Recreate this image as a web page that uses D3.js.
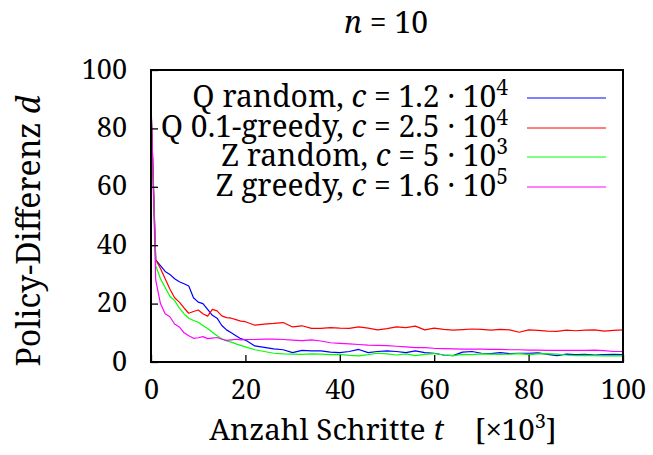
<!DOCTYPE html>
<html lang="de">
<head>
    <meta charset="UTF-8">
    <title>Policy-Differenz, n = 10</title>
    <script src="https://d3js.org/d3.v7.min.js"></script>
    <style>
        body { margin: 0; background: #fff; }
        .curve { fill: none; stroke-width: 1.2px; stroke-linejoin: round; }
    </style>
</head>
<body>
    <svg id="chart" width="653" height="455"></svg>

    <script>
        // Schritte t in 1000
        const steps = [0, 1, 2, 3, 4, 5, 6, 7, 8, 9, 10, 11, 12, 13, 14, 15, 16, 17, 18, 19, 20,
            22, 24, 26, 28, 30, 32, 34, 36, 38, 40, 42, 44, 46, 48, 50, 52, 54, 56, 58, 60,
            62, 64, 66, 68, 70, 72, 74, 76, 78, 80, 82, 84, 86, 88, 90, 92, 94, 96, 98, 100];

        const qRandom = [88, 35, 33, 31, 30, 28.5, 27.5, 26.8, 26, 22, 20.5, 20, 18, 16, 15, 12.5, 11, 10, 9, 8, 7.5,
            5.5, 5, 4.5, 4.2, 3.2, 4, 3.8, 3.8, 3.4, 3.2, 3.6, 4.3, 3.2, 3.6, 3.8, 3.6, 3.2, 3.8, 3.2, 3,
            2.4, 2.2, 3.4, 3.6, 3, 2.9, 3.2, 2.9, 3, 3, 3.1, 2.6, 2.2, 2.7, 2.5, 2.6, 2.4, 2.5, 2.6, 2.5];

        const qGreedy = [88, 35, 32, 28.5, 25, 22, 20.5, 18.5, 16.7, 17.3, 17.8, 16.5, 15.7, 18, 17.5, 15.8, 15.2, 15, 14.5, 14, 13.8,
            12.6, 13, 13.2, 13.5, 12, 12.4, 11.5, 11.5, 11.8, 11.6, 11.5, 12, 11.6, 11, 11.4, 12, 11.8, 12.3, 11, 11.6,
            11.2, 10.9, 11.1, 11.3, 11.2, 10.9, 11.2, 11, 10.2, 11, 10.8, 10.6, 10.5, 10.9, 10.7, 10.9, 11, 10.6, 10.8, 11];

        const zRandom = [86, 33, 28.5, 25.5, 22.5, 21, 18.5, 16.5, 15, 14.2, 13.6, 12.5, 11.5, 10.2, 9, 8, 7.2, 6.8, 6.2, 5.7, 5.2,
            4.2, 3.6, 3, 2.8, 2.7, 2.6, 2.8, 2.7, 2.5, 2.6, 2.3, 2.1, 2.5, 3, 2.8, 2.4, 2.8, 2.2, 2.6, 2.9,
            2.4, 2.2, 2.6, 2.5, 2.8, 2.7, 2.6, 2.7, 2.9, 2.5, 2.8, 2.9, 2.7, 2.4, 2.2, 2.3, 2.2, 2.1, 2.2, 2.1];

        const zGreedy = [90, 28, 20, 16.5, 15.5, 13, 12, 10, 9, 8.1, 8.3, 8.7, 8, 8.2, 8.4, 7.8, 7.4, 7.6, 7.8, 7.6, 7.7,
            7.7, 7.8, 7.8, 7.7, 7.5, 7.3, 7.6, 7.2, 6.6, 6.4, 6.2, 6, 5.8, 5.7, 5.6, 5.4, 5.2, 4.9, 4.9, 4.7,
            4.6, 4.5, 4.4, 4.4, 4.4, 4.3, 4.3, 4.2, 4.2, 4.1, 4.1, 4, 4, 4, 4, 4, 4.1, 3.9, 3.6, 3.6];

        const xTicks = [0, 20, 40, 60, 80, 100];
        const yTicks = [0, 20, 40, 60, 80, 100];

        const series = [
            { name: "Q random", c: "1.2", exp: "4", color: "#0000ff", values: qRandom },
            { name: "Q 0.1-greedy", c: "2.5", exp: "4", color: "#ff0000", values: qGreedy },
            { name: "Z random", c: "5", exp: "3", color: "#00ff00", values: zRandom },
            { name: "Z greedy", c: "1.6", exp: "5", color: "#ff00ff", values: zGreedy }
        ];

        const margin = { top: 70, right: 30, bottom: 93, left: 151 };
        const width = 653 - margin.left - margin.right;
        const height = 455 - margin.top - margin.bottom;
        const serif = "'Noto Serif', 'Tinos', 'Times New Roman', serif";

        const svg = d3.select("#chart");
        const g = svg.append("g")
            .attr("transform", `translate(${margin.left},${margin.top})`);

        const x = d3.scaleLinear().domain([0, 100]).range([0, width]);
        const y = d3.scaleLinear().domain([0, 100]).range([height, 0]);

        svg.append("defs").append("clipPath").attr("id", "clip")
            .append("rect").attr("width", width).attr("height", height);

        const line = d3.line()
            .x((d, i) => x(steps[i]))
            .y(d => y(d));

        g.append("g").attr("clip-path", "url(#clip)")
            .selectAll("path")
            .data(series)
            .join("path")
            .attr("class", "curve")
            .attr("stroke", d => d.color)
            .attr("d", d => line(d.values));

        // axes: inward ticks, labels outside
        const xAxis = g.append("g")
            .attr("transform", `translate(0,${height})`)
            .call(d3.axisBottom(x).tickValues(xTicks).tickSizeInner(-7).tickSizeOuter(0).tickPadding(18));
        const yAxis = g.append("g")
            .call(d3.axisLeft(y).tickValues(yTicks).tickSizeInner(-7).tickSizeOuter(0).tickPadding(24));

        [xAxis, yAxis].forEach(a => {
            a.attr("font-family", null).attr("font-size", null);
            a.select(".domain").remove();
            a.selectAll(".tick line").attr("stroke", "#000").attr("stroke-width", 1.3);
            a.selectAll(".tick text")
                .style("font-family", serif)
                .style("font-size", "27px");
        });
        xAxis.selectAll(".tick text").attr("dy", "0.71em");
        yAxis.selectAll(".tick text").attr("dy", "0.3em");

        // frame
        g.append("rect")
            .attr("width", width)
            .attr("height", height)
            .attr("fill", "none")
            .attr("stroke", "#000")
            .attr("stroke-width", 2);

        // legend
        const legend = g.append("g")
            .selectAll("g")
            .data(series)
            .join("g")
            .attr("transform", (d, i) => `translate(0,${Math.round(28 + i * 29.5)})`);

        legend.append("line")
            .attr("x1", 376).attr("x2", 455)
            .attr("stroke", d => d.color)
            .attr("stroke-width", 1);

        const lt = legend.append("text")
            .attr("x", 357)
            .attr("y", 9)
            .attr("text-anchor", "end")
            .style("font-family", serif)
            .style("font-size", "30px");
        lt.append("tspan").text(d => d.name + ", ");
        lt.append("tspan").style("font-style", "italic").text("c");
        lt.append("tspan").text(d => " = " + d.c + " \u00b7 10");
        lt.append("tspan").style("font-size", "21px").attr("dy", -12).text(d => d.exp);

        // title
        const title = svg.append("text")
            .attr("x", 386)
            .attr("y", 33)
            .attr("text-anchor", "middle")
            .style("font-family", serif)
            .style("font-size", "30px");
        title.append("tspan").style("font-style", "italic").text("n");
        title.append("tspan").text(" = 10");

        // x label
        const xl = svg.append("text")
            .attr("x", 383)
            .attr("y", 440)
            .attr("text-anchor", "middle")
            .style("font-family", serif)
            .style("font-size", "29.5px")
            .style("white-space", "pre");
        xl.append("tspan").text("Anzahl Schritte ");
        xl.append("tspan").style("font-style", "italic").text("t");
        xl.append("tspan").text("    [\u00d710");
        xl.append("tspan").style("font-size", "20px").attr("dy", -12).text("3");
        xl.append("tspan").attr("dy", 12).text("]");

        // y label
        const yl = svg.append("text")
            .attr("transform", "translate(40,231) rotate(-90)")
            .attr("text-anchor", "middle")
            .style("font-family", serif)
            .style("font-size", "32px");
        yl.append("tspan").text("Policy-Differenz ");
        yl.append("tspan").style("font-style", "italic").text("d");
    </script>
</body>
</html>
